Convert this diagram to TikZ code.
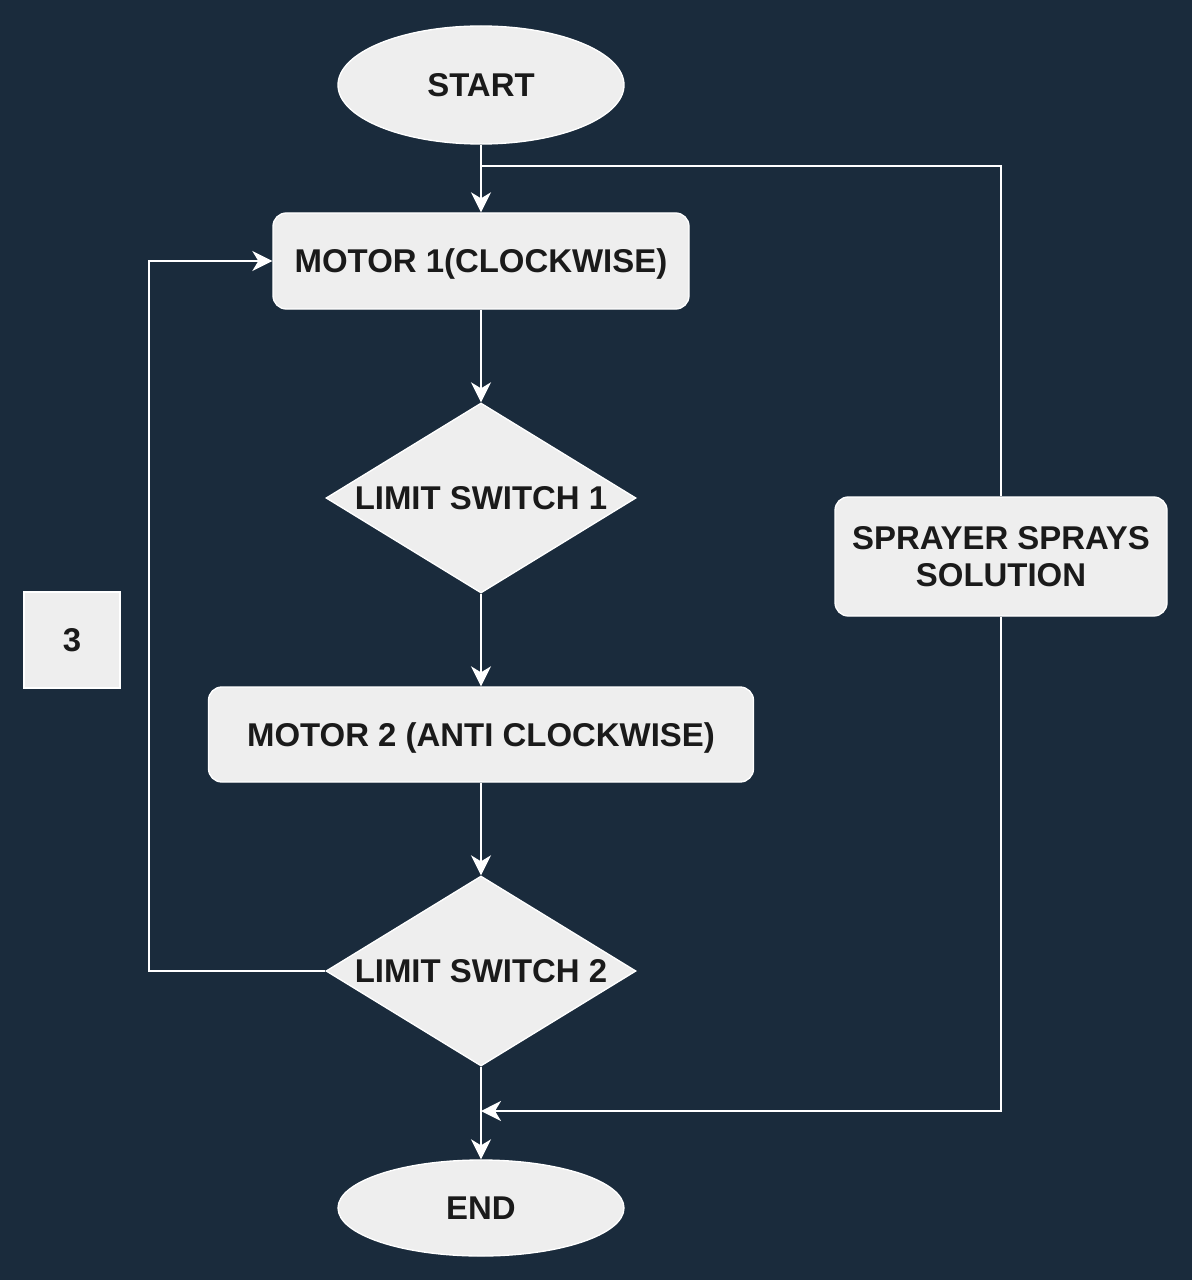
\documentclass[tikz,border=0pt]{standalone}
\usepackage{fontspec}
\setmainfont{Liberation Sans}
\usetikzlibrary{positioning}
\usetikzlibrary{shapes.geometric}
\usetikzlibrary{arrows.meta}
\definecolor{navy}{HTML}{1A2B3C}
\definecolor{boxfill}{HTML}{EEEEEE}
\definecolor{ink}{HTML}{1A1A1A}
\tikzset{node distance=69.5pt, % Gap between the blocks of the main column
      every node/.style={ % Sets the text of each block
      font=\bfseries\fontsize{24.7}{27.8}\selectfont,
      text=ink},
      term/.style={ellipse, draw=white, fill=boxfill, line width=1pt,
      minimum width=214.5pt, inner sep=0pt},
      process/.style={rectangle, rounded corners=10pt, draw=white, fill=boxfill,
      line width=1pt, minimum height=72pt, inner sep=0pt, text depth=0pt},
      decision/.style={diamond, aspect=1.63, draw=white, fill=boxfill, line width=1pt,
      minimum width=232.5pt, minimum height=142.5pt, inner sep=0pt},
      link/.style={draw=white, line width=1.5pt},
      flow/.style={ % Directed connectors with filled arrowheads
      link,
      -{Stealth[length=15pt,width=15pt,inset=4.5pt]}}}

\begin{document}
\begin{tikzpicture}[x=0.75pt,y=-0.75pt]
      \useasboundingbox (0,0) rectangle (1192,1280);
      \fill[navy] (0,0) rectangle (1192,1280);
      \node[term, minimum height=88.5pt] (start) at (481,85) {START};
      \node[process, minimum width=312pt, below=50.75pt of start] (motor1) {MOTOR 1(CLOCKWISE)};
      \node[decision, below=of motor1] (ls1) {LIMIT SWITCH 1};
      \node[process, minimum width=408.75pt, minimum height=71.25pt, below=of ls1] (motor2) {MOTOR 2 (ANTI CLOCKWISE)};
      \node[decision, below=of motor2] (ls2) {LIMIT SWITCH 2};
      \node[term, minimum height=72pt, below=of ls2] (finish) {END};
      \node[process, minimum width=249pt, minimum height=89.25pt, align=center] (spray) at (1001,556.5) {SPRAYER SPRAYS\\SOLUTION};
      \node[rectangle, draw=white, fill=boxfill, line width=1pt, minimum size=72pt] (three) at (72,640) {3};
      \coordinate (split) at (481,166);
      \coordinate (join) at (481,1111);
      \draw[flow] (start) -- (motor1);
      \draw[flow] (motor1) -- (ls1);
      \draw[flow] (ls1) -- (motor2);
      \draw[flow] (motor2) -- (ls2);
      \draw[flow] (ls2) -- (finish);
      \draw[flow] (ls2.west) -- ++(-176,0) |- (motor1.west);
      \draw[link] (split) -| (spray);
      \draw[flow] (spray) |- (join);
    \end{tikzpicture}
\end{document}
